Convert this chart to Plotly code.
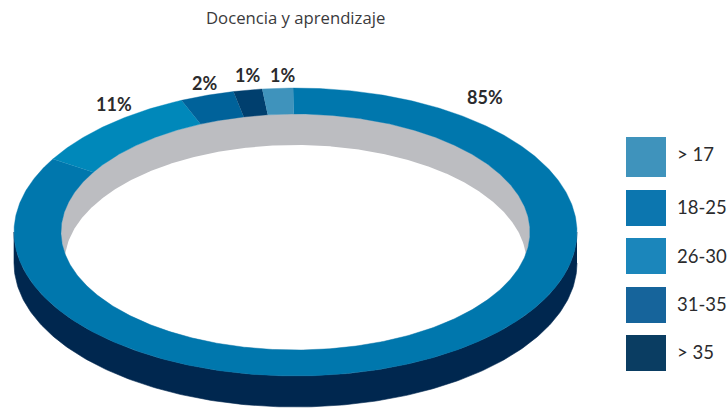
import numpy as np
import plotly.graph_objects as go

# Data
categories = ["18-25", "26-30", "31-35", "> 35", "> 17"]      # drawing order, clockwise from the top
pct_labels = ["85%", "11%", "2%", "1%", "1%"]
drawn_shares = [83.6, 9.9, 3.1, 1.65, 1.75]                     # arc share as drawn in the picture
slice_colors = ["#0077ad", "#0088ba", "#00629a", "#003f6e", "#3f93bc"]

legend_labels = ["> 17", "18-25", "26-30", "31-35", "> 35"]
legend_colors = ["#3f93bc", "#0c76af", "#1b86bb", "#16649b", "#0a3d62"]
title_text = "Docencia y aprendizaje"

# Geometry
CX, CY = 295.5, 232.0
A_OUT, B_OUT = 281.5, 144.0
A_IN, B_IN = 234.5, 118.0
A_HOLE = 231.0
DEPTH = 31.0
START = -0.5
SIDE = "#00274f"
WALL = "#bcbdc1"


def ell(a, b, deg, dy=0.0):
    t = np.radians(deg)
    return CX + a * np.sin(t), CY + dy - b * np.cos(t)


def poly(x, y, color, lw=0.6):
    return go.Scatter(x=list(x), y=list(y), mode="lines", fill="toself", fillcolor=color,
                      line=dict(color=color, width=lw), hoverinfo="skip", showlegend=False)


fig = go.Figure()

# Outer side wall (front half)
deg = np.linspace(90, 270, 240)
x1, y1 = ell(A_OUT, B_OUT, deg)
x2, y2 = ell(A_OUT, B_OUT, deg[::-1], DEPTH)
fig.add_trace(poly(np.r_[x1, x2], np.r_[y1, y2], SIDE))

# Hole: far inner wall, then the opening
deg = np.linspace(0, 360, 360)
x, y = ell(A_IN, B_IN, deg)
fig.add_trace(poly(x, y, WALL))
xs = np.linspace(-A_HOLE, A_HOLE, 500)
upper = CY + DEPTH - B_IN * np.sqrt(1 - (xs / A_HOLE) ** 2)
lower_a = CY + B_IN * np.sqrt(np.clip(1 - (xs / A_IN) ** 2, 0, 1))
lower_b = CY + DEPTH + B_IN * np.sqrt(1 - (xs / A_HOLE) ** 2)
lower = np.minimum(lower_a, lower_b)
keep = lower >= upper
fig.add_trace(poly(np.r_[CX + xs[keep], CX + xs[keep][::-1]], np.r_[upper[keep], lower[keep][::-1]], "#ffffff", 0))

# Top face slices, clockwise
angle = START
for share, color in zip(drawn_shares, slice_colors):
    span = share / sum(drawn_shares) * 360
    deg = np.linspace(angle, angle + span, max(int(span * 2), 8))
    xo, yo = ell(A_OUT, B_OUT, deg)
    xi, yi = ell(A_IN, B_IN, deg[::-1])
    fig.add_trace(poly(np.r_[xo, xi], np.r_[yo, yi], color, 0.4))
    angle += span

annotations = [dict(x=295, y=17, text=title_text, showarrow=False,
                    font=dict(family="Open Sans", size=16.7, color="#3a3a3c"))]

label_pos = [(485, 97), (114, 104), (204, 83), (247, 75), (282, 75)]
for (lx, ly), txt in zip(label_pos, pct_labels):
    annotations.append(dict(x=lx, y=ly, text=f"<b>{txt}</b>", showarrow=False,
                            font=dict(family="Lato", size=18, color="#2b2b2d")))

swatches = [(137, 177), (190, 226), (238, 274), (287, 323), (335, 371)]
text_y = [154, 207, 256, 304, 352]
shapes = []
for (top, bot), color, name, ty in zip(swatches, legend_colors, legend_labels, text_y):
    shapes.append(dict(type="rect", xref="x", yref="y", x0=626, x1=666, y0=top, y1=bot,
                       fillcolor=color, line=dict(width=0)))
    annotations.append(dict(x=675, y=ty, text=name,
                            showarrow=False, xanchor="left",
                            font=dict(family="Lato", size=18.5, color="#2b2b2d")))

fig.update_layout(
    width=728, height=409, autosize=False,
    margin=dict(l=0, r=0, t=0, b=0),
    paper_bgcolor="#ffffff", plot_bgcolor="#ffffff",
    xaxis=dict(range=[0, 728], visible=False, fixedrange=True),
    yaxis=dict(range=[409, 0], visible=False, fixedrange=True),
    shapes=shapes, annotations=annotations, showlegend=False,
)
fig.write_html("out.html", config={"displayModeBar": False},
               post_script="document.body.style.margin='0';document.body.style.overflow='hidden';")
